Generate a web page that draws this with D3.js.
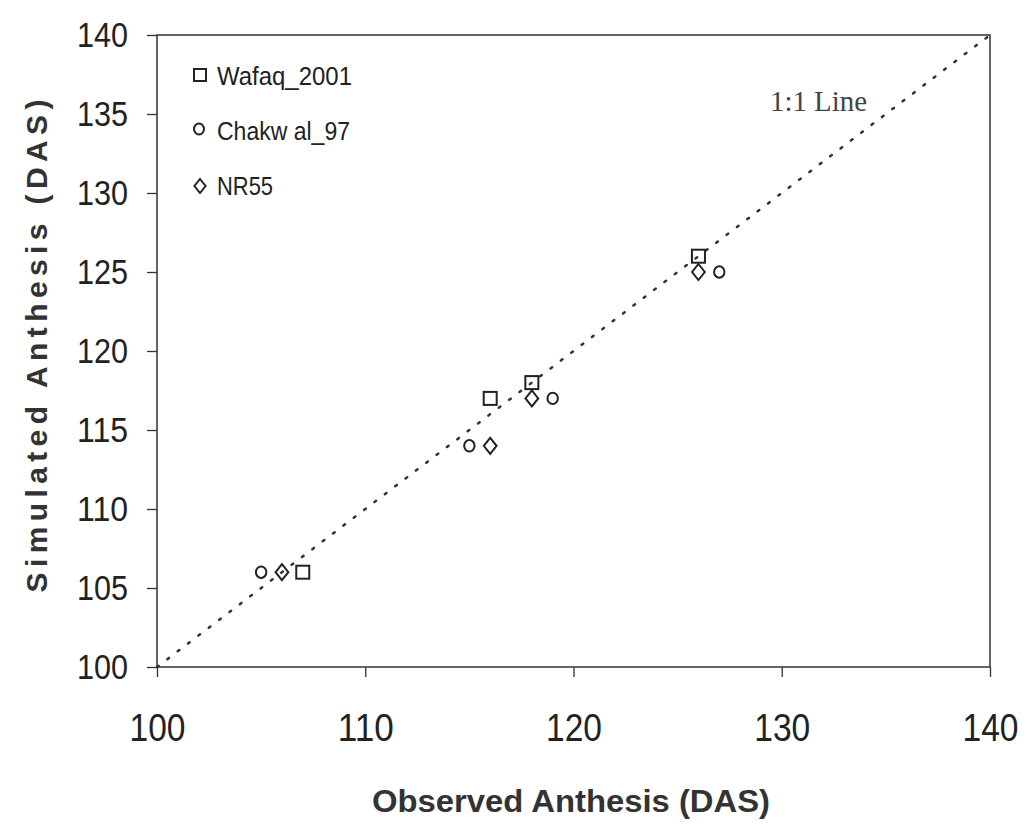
<!DOCTYPE html>
<html>
<head>
  <meta charset="utf-8">
  <script src="https://cdn.jsdelivr.net/npm/d3@7"></script>
  <style>
    body { margin: 0; background: #fff; }
  </style>
</head>
<body>
<div id="chart"></div>
<script>
// observed / simulated anthesis, days after sowing
var wafaqObs = [107, 116, 118, 126];
var wafaqSim = [106, 117, 118, 126];
var chakwalObs = [105, 115, 119, 127];
var chakwalSim = [106, 114, 117, 125];
var nr55Obs = [106, 116, 118, 126];
var nr55Sim = [106, 114, 117, 125];
var xTicks = [100, 110, 120, 130, 140];
var yTicks = [100, 105, 110, 115, 120, 125, 130, 135, 140];
var seriesNames = ["Wafaq_2001", "Chakw al_97", "NR55"];

var W = 1026, H = 825;
var mLeft = 157, mTop = 35, mRight = 990, mBottom = 667;
var sans = "'Liberation Sans', Arial, sans-serif";

var svg = d3.select("#chart").append("svg")
  .attr("width", W).attr("height", H);

var x = d3.scaleLinear().domain([100, 140]).range([mLeft, mRight]);
var y = d3.scaleLinear().domain([100, 140]).range([mBottom, mTop]);

// frame
svg.append("rect")
  .attr("x", mLeft).attr("y", mTop)
  .attr("width", mRight - mLeft).attr("height", mBottom - mTop)
  .attr("fill", "none").attr("stroke", "#333").attr("stroke-width", 1.5);

// axes
var xAxis = svg.append("g")
  .attr("transform", "translate(0," + mBottom + ")")
  .call(d3.axisBottom(x).tickValues(xTicks).tickSize(10).tickPadding(37));
var yAxis = svg.append("g")
  .attr("transform", "translate(" + mLeft + ",0)")
  .call(d3.axisLeft(y).tickValues(yTicks).tickSize(10).tickPadding(19));

[xAxis, yAxis].forEach(function (g) {
  g.select(".domain").remove();
  g.selectAll("line").attr("stroke", "#333").attr("stroke-width", 1.3);
  g.selectAll("text")
    .style("font-family", sans).attr("fill", "#222")
    .attr("lengthAdjust", "spacingAndGlyphs");
});
xAxis.selectAll(".tick text").style("font-size", "38px").attr("textLength", 56);
yAxis.selectAll(".tick text").style("font-size", "35px").attr("textLength", 51);

// 1:1 line
svg.append("line")
  .attr("x1", x(100)).attr("y1", y(100))
  .attr("x2", x(140)).attr("y2", y(140))
  .attr("stroke", "#333").attr("stroke-width", 2.5)
  .attr("stroke-dasharray", "2,11").attr("stroke-linecap", "round");

svg.append("text")
  .attr("x", 770).attr("y", 111)
  .style("font-family", "'Liberation Serif', 'Times New Roman', serif")
  .style("font-size", "30px").attr("fill", "#444")
  .attr("textLength", 97).attr("lengthAdjust", "spacingAndGlyphs")
  .text("1:1 Line");

function square(g, cx, cy, s) {
  g.append("rect").attr("x", cx - s / 2).attr("y", cy - s / 2)
    .attr("width", s).attr("height", s)
    .attr("fill", "none").attr("stroke", "#222").attr("stroke-width", 2);
}
function circle(g, cx, cy, r) {
  g.append("ellipse").attr("cx", cx).attr("cy", cy).attr("rx", r).attr("ry", r * 1.1)
    .attr("fill", "none").attr("stroke", "#222").attr("stroke-width", 2);
}
function diamond(g, cx, cy, s) {
  g.append("path")
    .attr("d", "M" + cx + "," + (cy - s) + "L" + (cx + s * 0.8) + "," + cy +
      "L" + cx + "," + (cy + s) + "L" + (cx - s * 0.8) + "," + cy + "Z")
    .attr("fill", "none").attr("stroke", "#222").attr("stroke-width", 2);
}

var pts = svg.append("g");
wafaqObs.forEach(function (d, i) { square(pts, x(d), y(wafaqSim[i]), 13); });
chakwalObs.forEach(function (d, i) { circle(pts, x(d), y(chakwalSim[i]), 5.2); });
nr55Obs.forEach(function (d, i) { diamond(pts, x(d), y(nr55Sim[i]), 8); });

// legend
var leg = svg.append("g");
square(leg, 200, 75, 12);
circle(leg, 199, 129, 5);
diamond(leg, 200, 186, 7);
var legLen = [135, 133, 56];
seriesNames.forEach(function (n, i) {
  leg.append("text")
    .attr("x", 217).attr("y", 76 + i * 55).attr("dy", "0.36em")
    .style("font-family", sans).style("font-size", "25px").attr("fill", "#222")
    .attr("textLength", legLen[i]).attr("lengthAdjust", "spacingAndGlyphs")
    .text(n);
});

// axis titles
svg.append("text")
  .attr("x", 571).attr("y", 812)
  .attr("text-anchor", "middle")
  .style("font-family", sans).style("font-size", "31px").style("font-weight", "bold")
  .attr("fill", "#333")
  .attr("textLength", 398).attr("lengthAdjust", "spacingAndGlyphs")
  .text("Observed Anthesis (DAS)");

svg.append("text")
  .attr("transform", "translate(47,346) rotate(-90)")
  .attr("text-anchor", "middle")
  .style("font-family", sans).style("font-size", "30px").style("font-weight", "bold")
  .attr("fill", "#333")
  .attr("textLength", 493).attr("lengthAdjust", "spacing")
  .text("Simulated Anthesis (DAS)");
</script>
</body>
</html>
